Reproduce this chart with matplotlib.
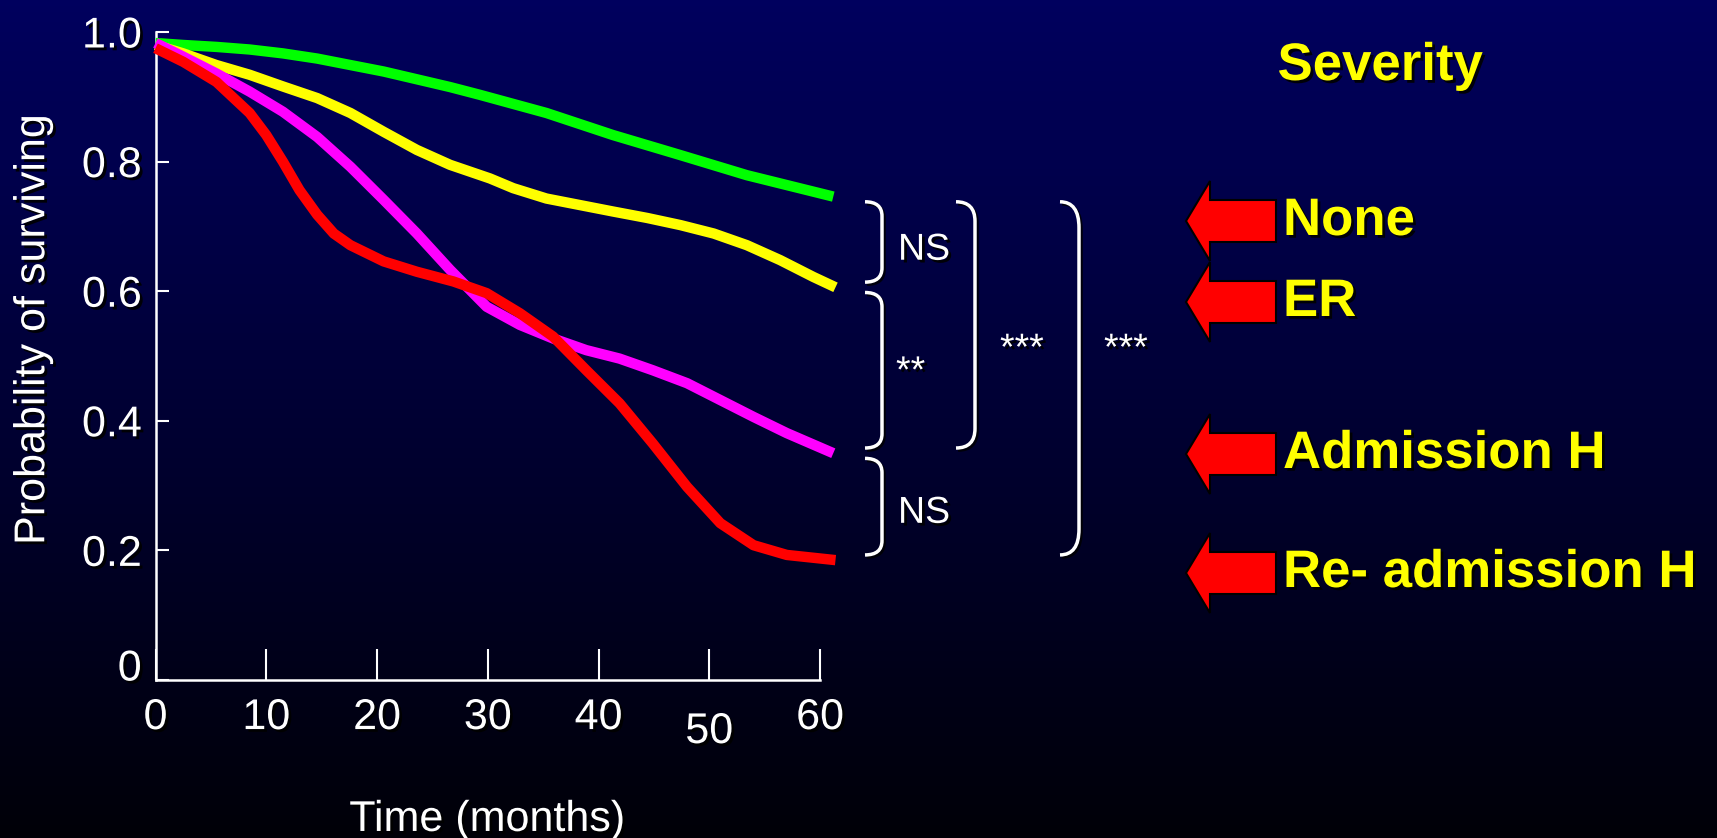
import matplotlib
matplotlib.use('Agg')
import matplotlib.pyplot as plt
import matplotlib.patheffects as pe
import matplotlib.transforms as mtransforms
from matplotlib.path import Path
from matplotlib.patches import PathPatch, Polygon
import numpy as np

plt.rcParams['font.family'] = 'Liberation Sans'

# survival by severity group: months since baseline, probability of surviving
none_months = [0, 2.5, 5.5, 8.5, 11.5, 14.6, 17.6, 20.6, 23.6, 26.6, 29.3, 35.3, 41.3, 47.4, 53.4, 61.2]
none_surv = [0.983, 0.980, 0.977, 0.973, 0.967, 0.959, 0.949, 0.939, 0.927, 0.915, 0.903, 0.875, 0.841, 0.810, 0.779, 0.746]

er_months = [0, 2.5, 5.5, 8.5, 11.5, 14.6, 17.6, 20.6, 23.6, 26.6, 30.2, 32.3, 35.3, 38.3, 41.3, 44.4,
             47.4, 50.4, 53.4, 56.4, 59.4, 61.4]
er_surv = [0.980, 0.967, 0.949, 0.934, 0.916, 0.898, 0.875, 0.846, 0.818, 0.795, 0.774, 0.759, 0.743, 0.733,
           0.723, 0.713, 0.702, 0.689, 0.671, 0.648, 0.622, 0.606]

adm_months = [0, 2.5, 5.5, 8.5, 11.5, 14.6, 17.6, 20.6, 23.6, 26.6, 29.9, 32.9, 35.9, 38.9, 41.9, 44.9,
              48.0, 51.0, 54.0, 57.0, 61.2]
adm_surv = [0.983, 0.962, 0.936, 0.908, 0.877, 0.838, 0.792, 0.741, 0.689, 0.633, 0.576, 0.548, 0.527, 0.509,
            0.496, 0.478, 0.458, 0.432, 0.406, 0.381, 0.350]

readm_months = [0, 2.5, 5.5, 8.5, 10.0, 11.5, 13.0, 14.6, 16.1, 17.6, 20.6, 23.6, 26.9, 29.9, 32.9, 35.9,
                38.9, 41.9, 44.9, 48.0, 51.0, 54.0, 57.0, 61.4]
readm_surv = [0.975, 0.954, 0.923, 0.875, 0.841, 0.800, 0.756, 0.718, 0.689, 0.671, 0.646, 0.630, 0.615, 0.597,
              0.566, 0.530, 0.478, 0.427, 0.365, 0.298, 0.242, 0.208, 0.193, 0.185]

severity_labels = ['None', 'ER', 'Admission H', 'Re- admission H']
line_colors = ['#00FF00', '#FFFF00', '#FF00FF', '#FF0000']

x_ticks = [0, 10, 20, 30, 40, 50, 60]
y_ticks = [0, 0.2, 0.4, 0.6, 0.8, 1.0]
y_tick_labels = ['0', '0.2', '0.4', '0.6', '0.8', '1.0']

# pairwise tests between groups: (upper group, lower group, result)
comparisons = [(0, 1, 'NS'), (1, 2, '**'), (2, 3, 'NS'), (0, 2, '***'), (0, 3, '***')]

series = [(none_months, none_surv), (er_months, er_surv),
          (adm_months, adm_surv), (readm_months, readm_surv)]

W, H = 1717, 838
fig = plt.figure(figsize=(W / 100, H / 100), dpi=100)

# dark blue slide background fading to black
bg = fig.add_axes([0, 0, 1, 1], zorder=-10)
grad = np.linspace(0, 1, 256).reshape(-1, 1)
top_c = np.array([0.0, 0.0, 0.37])
bot_c = np.array([0.0, 0.0, 0.03])
img = top_c[None, None, :] * (1 - grad[:, :, None]) + bot_c[None, None, :] * grad[:, :, None]
bg.imshow(img, aspect='auto', extent=[0, 1, 0, 1])
bg.axis('off')

shadow = [pe.SimplePatchShadow(offset=(2, -2), shadow_rgbFace='black', alpha=0.9), pe.Normal()]
line_shadow = [pe.SimpleLineShadow(offset=(1.5, -1.5), shadow_color='black', alpha=0.8), pe.Normal()]

ax = fig.add_axes([155.5 / W, 1 - 680 / H, (820 - 155.5) / W, (680 - 32) / H])
ax.set_facecolor('none')

for (m, s), c in zip(series, line_colors):
    ax.plot(m, s, color=c, lw=7.5, solid_capstyle='butt', solid_joinstyle='round', clip_on=False, zorder=3)

ax.set_xlim(0, 60)
ax.set_ylim(0, 1)
for side in ['top', 'right']:
    ax.spines[side].set_visible(False)
for side in ['left', 'bottom']:
    ax.spines[side].set_color('white')
    ax.spines[side].set_linewidth(1.8)

ax.set_xticks(x_ticks)
ax.set_yticks(y_ticks)
ax.set_yticklabels(y_tick_labels)
ax.tick_params(axis='x', direction='in', length=22, width=1.5, colors='white', labelsize=31, pad=13)
ax.tick_params(axis='y', direction='in', length=9.5, width=1.5, colors='white', labelsize=31, pad=10)
for lab in ax.get_xticklabels() + ax.get_yticklabels():
    lab.set_path_effects(shadow)

# the "50" sits a little low and the "0" sits above the corner
xl = ax.get_xticklabels()
xl[5].set_transform(xl[5].get_transform() + mtransforms.ScaledTranslation(0, -0.14, fig.dpi_scale_trans))
yl = ax.get_yticklabels()
yl[0].set_transform(yl[0].get_transform() + mtransforms.ScaledTranslation(0, 0.15, fig.dpi_scale_trans))

ax.set_xlabel('Time (months)', fontsize=31, color='white', path_effects=shadow, va='center')
ax.xaxis.set_label_coords(0.499, -0.216)
ax.set_ylabel('Probability of surviving', fontsize=31, color='white', path_effects=shadow, va='center')
ax.yaxis.set_label_coords(-0.184, 0.54)

# overlay in pixel coordinates for brackets, arrows and the severity key
ov = fig.add_axes([0, 0, 1, 1], zorder=5)
ov.set_xlim(0, W)
ov.set_ylim(H, 0)
ov.axis('off')

blend = mtransforms.blended_transform_factory(ov.transData, ax.transData)


def bracket(x_tip, x_bar, top, bottom, r):
    verts = [(x_tip, top), (x_bar, top), (x_bar, top - r),
             (x_bar, bottom + r), (x_bar, bottom), (x_tip, bottom)]
    codes = [Path.MOVETO, Path.CURVE3, Path.CURVE3, Path.LINETO, Path.CURVE3, Path.CURVE3]
    p = PathPatch(Path(verts, codes), fc='none', ec='white', lw=2.5, transform=blend,
                  clip_on=False, path_effects=line_shadow)
    fig.add_artist(p)


bracket_x = [(865, 882), (865, 882), (865, 882), (956, 975), (1060, 1079)]
bracket_r = [0.022, 0.022, 0.022, 0.03, 0.04]
label_x = [898, 896, 898, 1000, 1104]
label_y = [0.664, 0.475, 0.258, 0.51, 0.51]
gap = 0.008
for (hi, lo, txt), (xt, xb), r, lx, ly in zip(comparisons, bracket_x, bracket_r, label_x, label_y):
    top = series[hi][1][-1] - gap
    bottom = series[lo][1][-1] + gap
    bracket(xt, xb, top, bottom, r)
    fig.text(lx, ly, txt, transform=blend, fontsize=27, color='white', ha='left', va='center',
             path_effects=shadow)

# severity key with red block arrows
ov.text(1380, 66, 'Severity', fontsize=38, fontweight='bold', color='#FFFF00', ha='center', va='center',
        path_effects=shadow)
key_y = [221, 302, 454, 573]
for lab, cy in zip(severity_labels, key_y):
    tip, back, end = 1186, 1210, 1276
    hh, sh = 40, 21
    arrow = Polygon([(tip, cy), (back, cy - hh), (back, cy - sh), (end, cy - sh),
                     (end, cy + sh), (back, cy + sh), (back, cy + hh)],
                    closed=True, fc='#FF0000', ec='black', lw=1.5)
    ov.add_patch(arrow)
    ov.text(1283, cy, lab, fontsize=38, fontweight='bold', color='#FFFF00', ha='left', va='center',
            path_effects=shadow)

fig.savefig('out.png', dpi=100, facecolor='#000030')
